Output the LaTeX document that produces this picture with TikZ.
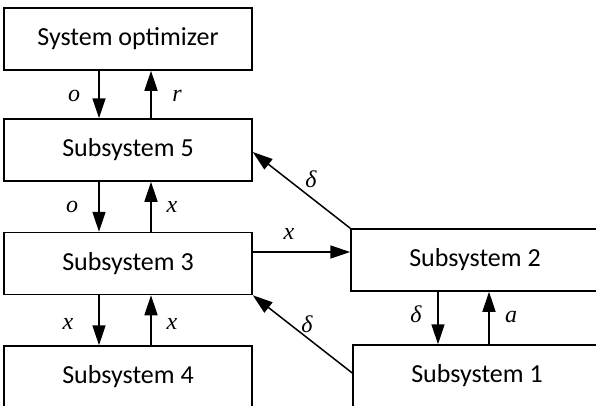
\documentclass[tikz,border=0pt]{standalone}
\usepackage{fontspec}
\setmainfont{Carlito}
\newfontfamily\lblfont{Liberation Serif}
\newcommand\lbltxt[1]{{\lblfont\itshape #1}}
\usetikzlibrary{arrows.meta}
\tikzset{
  box/.style={draw, line width=1.5pt, minimum width=248pt, minimum height=62pt, inner sep=0pt, font=\fontsize{26}{30}\selectfont},
  arr/.style={line width=1.5pt, -{Triangle[length=20pt,width=13pt]}},
  lbl/.style={font=\fontsize{24}{27}\selectfont, inner sep=0pt, anchor=base}
}
\begin{document}
\begin{tikzpicture}[x=1pt,y=-1pt]
\useasboundingbox (0,0) rectangle (596,405);
\node[box] (opt) at (128,39) {System optimizer};
\node[box] (s5) at (128,150) {Subsystem 5};
\node[box] (s3) at (128,263.5) {Subsystem 3};
\node[box] (s4) at (128,377) {Subsystem 4};
\node[box] (s2) at (475,260) {Subsystem 2};
\node[box] (s1) at (477,376) {Subsystem 1};
% left column
\draw[arr] ([xshift=-29pt]opt.south) -- ([xshift=-29pt]s5.north);
\draw[arr] ([xshift=23pt]s5.north) -- ([xshift=23pt]opt.south);
\draw[arr] ([xshift=-29pt]s5.south) -- ([xshift=-29pt]s3.north);
\draw[arr] ([xshift=23pt]s3.north) -- ([xshift=23pt]s5.south);
\draw[arr] ([xshift=-29pt]s3.south) -- ([xshift=-29pt]s4.north);
\draw[arr] ([xshift=23pt]s4.north) -- ([xshift=23pt]s3.south);
% right column
\draw[arr] ([xshift=-37pt]s2.south) -- ([xshift=-37pt]s2.south |- s1.north);
\draw[arr] ([xshift=14pt]s2.south |- s1.north) -- ([xshift=14pt]s2.south);
% cross links
\draw[arr] ([yshift=11.5pt]s3.east) -- ([yshift=11.5pt]s3.east -| s2.west);
\draw[arr] (s2.north west) -- ([yshift=-2pt]s5.east);
\draw[arr] ([yshift=3pt]s1.west) -- (s3.south east);
% labels
\node[lbl] (l1) at (74,101) {\lbltxt{o}};
\node[lbl] (l2) at (177,101) {\lbltxt{r}};
\node[lbl] (l3) at (72,212) {\lbltxt{o}};
\node[lbl] (l4) at (172,212) {\lbltxt{x}};
\node[lbl] (l5) at (68,329) {\lbltxt{x}};
\node[lbl] (l6) at (172,329) {\lbltxt{x}};
\node[lbl] (l7) at (311,187) {\lbltxt{δ}};
\node[lbl] (l8) at (289,239) {\lbltxt{x}};
\node[lbl] (l9) at (307,332) {\lbltxt{δ}};
\node[lbl] (l10) at (416,322) {\lbltxt{δ}};
\node[lbl] (l11) at (511,322) {\lbltxt{a}};
\end{tikzpicture}
\end{document}
